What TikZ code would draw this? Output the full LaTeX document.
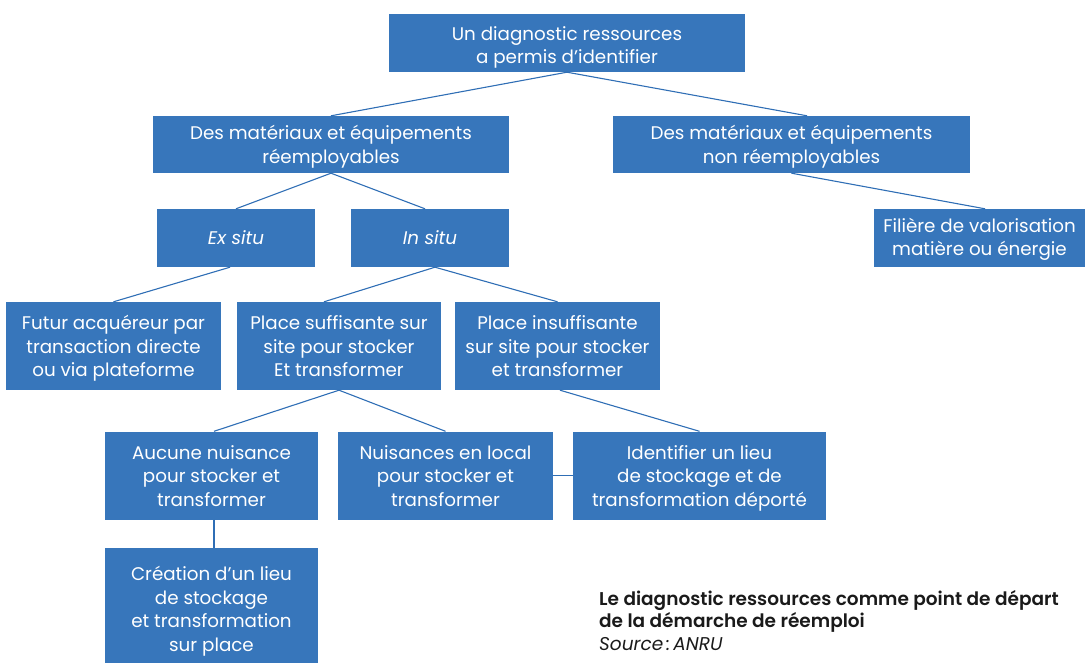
\documentclass[tikz,border=0pt]{standalone}
\usepackage{fontspec}
\setmainfont{Poppins}
\newfontfamily\capsemi{Poppins SemiBold}
\definecolor{boxblue}{HTML}{3776BB}
\definecolor{lineblue}{HTML}{2F6EB5}
\definecolor{captext}{HTML}{1A1A1A}
\begin{document}
\begin{tikzpicture}[x=1pt,y=-1pt,
  bx/.style={fill=boxblue, draw=none, text=white, align=center, inner sep=0pt,
    font=\fontsize{18.3}{23.5}\selectfont},
  two/.style={bx, text height=38pt, text depth=0pt},
  three/.style={bx, text height=61pt, text depth=0pt},
  four/.style={bx, text height=84pt, text depth=0pt},
  conn/.style={draw=lineblue, line width=1.1pt}]
\useasboundingbox (0,0) rectangle (1085,663);
\node[two, text height=42pt, minimum width=356, minimum height=58] (top) at (567,43) {Un diagnostic ressources\\a permis d’identifier};
\node[two, minimum width=356, minimum height=57] (l2l) at (331,144.5) {Des matériaux et équipements\\réemployables};
\node[two, minimum width=357, minimum height=57] (l2r) at (791.5,144.5) {Des matériaux et équipements\\non réemployables};
\node[bx, minimum width=158, minimum height=58] (ex) at (236,238) {\itshape Ex situ};
\node[bx, minimum width=158, minimum height=58] (ins) at (430,238) {\itshape In situ};
\node[two, text height=36pt, minimum width=211, minimum height=58] (fil) at (979.5,238) {Filière de valorisation\\matière ou énergie};
\node[three, minimum width=215, minimum height=88] (fut) at (113.5,346) {Futur acquéreur par\\transaction directe\\ou via plateforme};
\node[three, minimum width=204, minimum height=88] (pls) at (339,346) {Place suffisante sur\\site pour stocker\\Et transformer};
\node[three, minimum width=205, minimum height=88] (pli) at (557.5,346) {Place insuffisante\\sur site pour stocker\\et transformer};
\node[three, minimum width=213, minimum height=88] (auc) at (211.5,475.5) {Aucune nuisance\\pour stocker et\\transformer};
\node[three, minimum width=215, minimum height=88] (nui) at (445.5,475.5) {Nuisances en local\\pour stocker et\\transformer};
\node[three, minimum width=253, minimum height=88] (ide) at (699.5,475.5) {Identifier un lieu\\de stockage et de\\transformation déporté};
\node[four, minimum width=213, minimum height=122] (cre) at (211.5,609) {Création d’un lieu\\de stockage\\et transformation\\sur place};
\node[anchor=north west, inner sep=0pt, align=left, text=captext,
  font=\fontsize{18.5}{22.5}\selectfont] (cap) at (599,590)
  {{\capsemi Le diagnostic ressources comme point de départ}\\{\capsemi de la démarche de réemploi}\\\textit{Source\,:\,ANRU}};
\draw[conn] (top.south) -- (l2l.north);
\draw[conn] (top.south) -- ([xshift=15.5pt]l2r.north);
\draw[conn] (l2l.south) -- (ex.north);
\draw[conn] (l2l.south) -- ([xshift=-5pt]ins.north);
\draw[conn] (l2r.south) -- ([xshift=5.5pt]fil.north);
\draw[conn] ([xshift=-6pt]ex.south) -- (fut.north);
\draw[conn] ([xshift=5pt]ins.south) -- ([xshift=-15pt]pls.north);
\draw[conn] ([xshift=5pt]ins.south) -- (pli.north);
\draw[conn] (pls.south) -- ([xshift=2.5pt]auc.north);
\draw[conn] (pls.south) -- (nui.north);
\draw[conn] ([xshift=2.5pt]pli.south) -- (ide.north);
\draw[conn] (nui.east) -- (ide.west);
\draw[conn] ([xshift=2.5pt]auc.south) -- ([xshift=2.5pt]cre.north);
\end{tikzpicture}
\end{document}
